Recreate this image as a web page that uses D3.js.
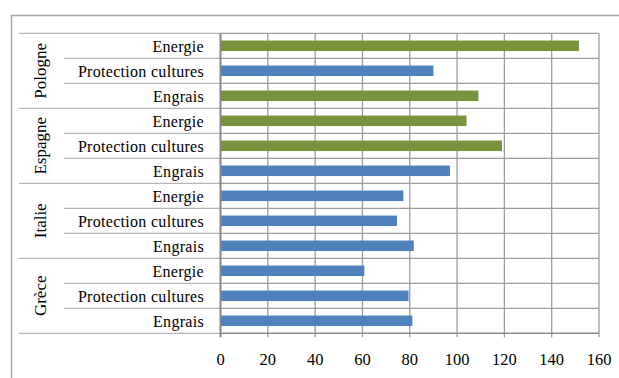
<!DOCTYPE html>
<html>
<head>
<meta charset="utf-8">
<script src="https://cdn.jsdelivr.net/npm/d3@7"></script>
<style>
  body { margin: 0; background: #fff; }
  svg { display: block; font-family: "Liberation Serif", "Times New Roman", serif; }
</style>
</head>
<body>
<svg id="chart" width="619" height="378"></svg>
<script>
// données (de haut en bas dans le graphique)
const countries = ["Pologne", "Espagne", "Italie", "Grèce"];
const categories = ["Energie", "Protection cultures", "Engrais"];
// valeurs par pays, dans l'ordre des catégories
const valPologne = [151.5, 90, 109];
const valEspagne = [104, 119, 97];
const valItalie = [77.3, 74.6, 81.7];
const valGrece = [60.8, 79.5, 81.1];
// couleur de chaque barre (vert / bleu) comme dans l'original
const colPologne = ["g", "b", "g"];
const colEspagne = ["g", "g", "b"];
const colItalie = ["b", "b", "b"];
const colGrece = ["b", "b", "b"];
const xTicks = [0, 20, 40, 60, 80, 100, 120, 140, 160];

const colors = { g: "#77933c", b: "#4f81bd" };
const allVals = [valPologne, valEspagne, valItalie, valGrece];
const allCols = [colPologne, colEspagne, colItalie, colGrece];

const rows = [];
countries.forEach((c, i) => {
  categories.forEach((cat, j) => {
    rows.push({ country: c, cat: cat, value: allVals[i][j], color: colors[allCols[i][j]], id: c + "|" + cat });
  });
});

const svg = d3.select("#chart");
const pLeft = 220.5, pRight = 599, pTop = 33.3, pBottom = 333.3;

const x = d3.scaleLinear().domain([0, 160]).range([pLeft, pRight]);
const y = d3.scaleBand().domain(rows.map(d => d.id)).range([pTop, pBottom]).paddingInner(0.58).paddingOuter(0.29);
const rowH = (pBottom - pTop) / rows.length;

// cadre extérieur
svg.append("path")
  .attr("d", `M11.5,378 V15.5 H619`)
  .attr("fill", "none").attr("stroke", "#a6a6a6").attr("stroke-width", 1.5);

// grille verticale
svg.append("g").selectAll("line")
  .data(xTicks.slice(1))
  .enter().append("line")
  .attr("x1", d => x(d)).attr("x2", d => x(d))
  .attr("y1", pTop).attr("y2", pBottom + 4)
  .attr("stroke", "#9d9d9d").attr("stroke-width", 1.3);

// lignes horizontales (grille + séparateurs d'étiquettes)
for (let i = 0; i <= rows.length; i++) {
  const yy = pTop + i * rowH;
  const isGroup = i % 3 === 0;
  svg.append("line")
    .attr("x1", isGroup ? 19 : 64).attr("x2", pLeft)
    .attr("y1", yy).attr("y2", yy)
    .attr("stroke", "#b5b5b5").attr("stroke-width", 1.2);
  svg.append("line")
    .attr("x1", pLeft).attr("x2", pRight)
    .attr("y1", yy).attr("y2", yy)
    .attr("stroke", i === rows.length ? "#8c8c8c" : "#9d9d9d").attr("stroke-width", i === rows.length ? 1.6 : 1.3);
}

// barres
svg.append("g").selectAll("rect")
  .data(rows)
  .enter().append("rect")
  .attr("x", x(0))
  .attr("y", d => y(d.id))
  .attr("width", d => x(d.value) - x(0))
  .attr("height", y.bandwidth())
  .attr("fill", d => d.color);

// axe vertical
svg.append("line")
  .attr("x1", pLeft).attr("x2", pLeft)
  .attr("y1", pTop).attr("y2", pBottom + 4)
  .attr("stroke", "#868686").attr("stroke-width", 2);

// étiquettes de l'axe x
svg.append("g").selectAll("text")
  .data(xTicks)
  .enter().append("text")
  .attr("x", d => x(d)).attr("y", 364.5)
  .attr("text-anchor", "middle")
  .attr("font-size", "16.5px").attr("fill", "#000")
  .text(d => d);

// étiquettes des catégories
svg.append("g").selectAll("text")
  .data(rows)
  .enter().append("text")
  .attr("x", 204)
  .attr("y", d => y(d.id) + y.bandwidth() / 2)
  .attr("dy", "0.4em")
  .attr("text-anchor", "end")
  .attr("font-size", "16px").attr("letter-spacing", "0.3px").attr("fill", "#000")
  .text(d => d.cat);

// étiquettes des pays (verticales)
svg.append("g").selectAll("text")
  .data(countries)
  .enter().append("text")
  .attr("transform", (d, i) => `translate(40.5,${pTop + (i * 3 + 1.5) * rowH}) rotate(-90)`)
  .attr("dy", "0.35em")
  .attr("text-anchor", "middle")
  .attr("font-size", "17px").attr("fill", "#000")
  .text(d => d);
</script>
</body>
</html>
